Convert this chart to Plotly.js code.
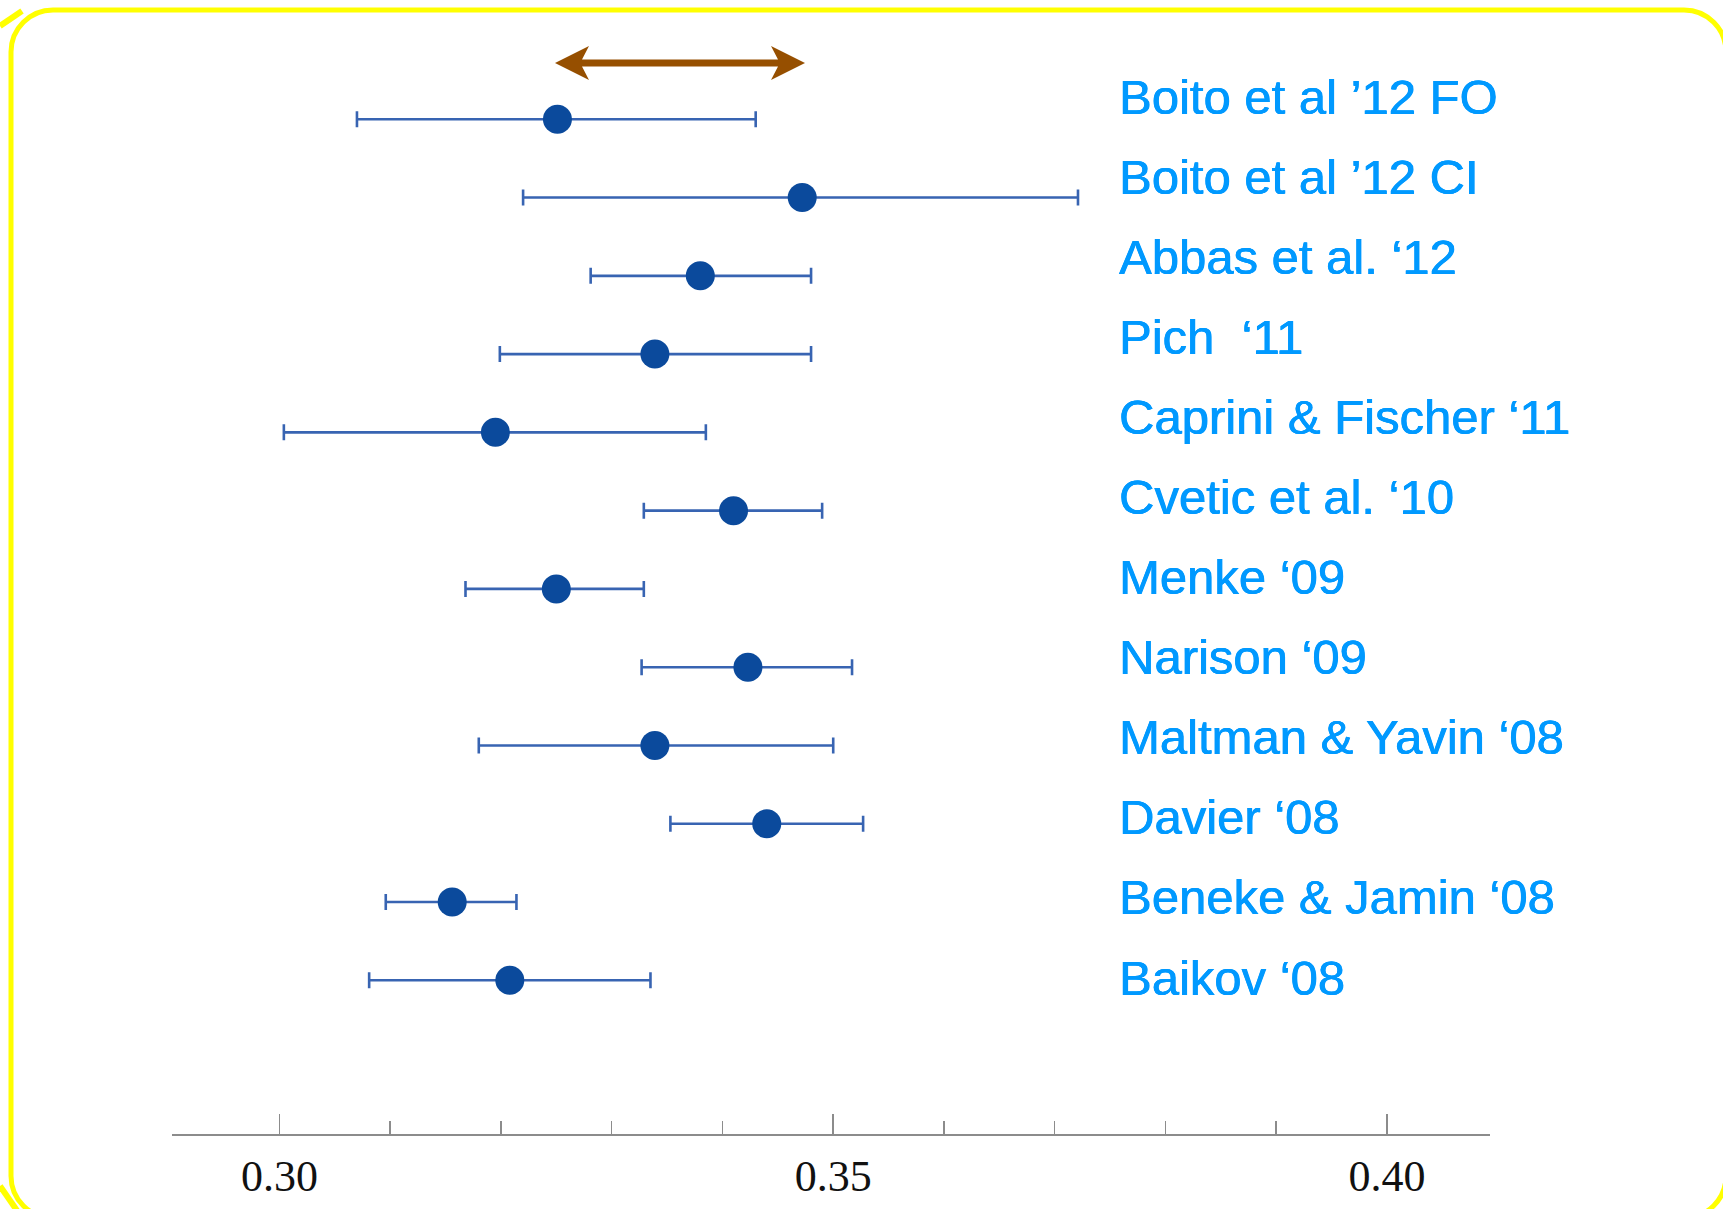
<!DOCTYPE html>
<html>
<head>
<meta charset="utf-8">
<script src="https://cdn.plot.ly/plotly-3.0.1.min.js"></script>
<style>
  html, body { margin: 0; padding: 0; background: #ffffff; }
  #chart { width: 1723px; height: 1209px; }
</style>
</head>
<body>
<div id="chart"></div>
<script>
// ---- data ----
const studies = [
  "Boito et al \u201912 FO",
  "Boito et al \u201912 CI",
  "Abbas et al. \u201812",
  "Pich \u00a0\u201811",
  "Caprini & Fischer \u201811",
  "Cvetic et al. \u201810",
  "Menke \u201809",
  "Narison \u201809",
  "Maltman & Yavin \u201808",
  "Davier \u201808",
  "Beneke & Jamin \u201808",
  "Baikov \u201808"
];
const central = [0.3251, 0.3472, 0.3380, 0.3339, 0.3195, 0.3410, 0.3250, 0.3423, 0.3339, 0.3440, 0.3156, 0.3208];
const lower   = [0.3070, 0.3220, 0.3281, 0.3199, 0.3004, 0.3329, 0.3168, 0.3327, 0.3180, 0.3353, 0.3096, 0.3081];
const upper   = [0.3430, 0.3721, 0.3480, 0.3480, 0.3385, 0.3490, 0.3329, 0.3517, 0.3500, 0.3527, 0.3214, 0.3335];
const tickValues = [0.30, 0.35, 0.40];
const tickLabels = ["0.30", "0.35", "0.40"];

// ---- layout geometry ----
const W = 1723, H = 1209;
const M = { l: 172, r: 233, t: 0, b: 75 };
const plotW = W - M.l - M.r, plotH = H - M.t - M.b;
const xRange = [0.2903, 0.4093];
function pxToX(px) { return xRange[0] + (px - M.l) / plotW * (xRange[1] - xRange[0]); }
function pxToPaperX(px) { return (px - M.l) / plotW; }
function pyToPaperY(py) { return 1 - (py - M.t) / plotH; }

const rowIndex = studies.map((_, i) => i);
const errPlus = upper.map((u, i) => u - central[i]);
const errMinus = lower.map((l, i) => central[i] - l);

const trace = {
  type: 'scatter',
  mode: 'markers',
  x: central,
  y: rowIndex,
  error_x: {
    type: 'data', symmetric: false,
    array: errPlus, arrayminus: errMinus,
    color: '#3864b2', thickness: 2.6, width: 8
  },
  marker: { size: 29, color: '#0b4a9c', line: { width: 0 } },
  hoverinfo: 'skip',
  cliponaxis: false
};

// yellow rounded frame (paper coords converted from pixels)
function P(px, py) { return pxToPaperX(px) + ',' + pyToPaperY(py); }
function roundedRect(x0, y0, x1, y1, r) {
  const k = 0.5523 * r;
  return 'M' + P(x0 + r, y0) +
    ' L' + P(x1 - r, y0) +
    ' C' + P(x1 - r + k, y0) + ' ' + P(x1, y0 + r - k) + ' ' + P(x1, y0 + r) +
    ' L' + P(x1, y1 - r) +
    ' C' + P(x1, y1 - r + k) + ' ' + P(x1 - r + k, y1) + ' ' + P(x1 - r, y1) +
    ' L' + P(x0 + r, y1) +
    ' C' + P(x0 + r - k, y1) + ' ' + P(x0, y1 - r + k) + ' ' + P(x0, y1 - r) +
    ' L' + P(x0, y0 + r) +
    ' C' + P(x0, y0 + r - k) + ' ' + P(x0 + r - k, y0) + ' ' + P(x0 + r, y0) + ' Z';
}

// brown double arrow (x in data units, y in paper units)
function A(px, py) { return pxToX(px) + ',' + pyToPaperY(py); }
const arrowPath = 'M' + A(555, 63) + ' L' + A(589, 46) + ' L' + A(582, 59.5) +
  ' L' + A(778, 59.5) + ' L' + A(771, 46) + ' L' + A(805, 63) + ' L' + A(771, 80) +
  ' L' + A(778, 66.5) + ' L' + A(582, 66.5) + ' L' + A(589, 80) + ' Z';

const shapes = [
  { type: 'path', xref: 'paper', yref: 'paper', path: roundedRect(11, 10, 1726, 1218, 42),
    line: { color: '#ffff00', width: 5 }, fillcolor: 'rgba(0,0,0,0)', layer: 'above' },
  { type: 'line', xref: 'paper', yref: 'paper',
    x0: pxToPaperX(0), y0: pyToPaperY(26), x1: pxToPaperX(22), y1: pyToPaperY(11),
    line: { color: '#ffff00', width: 6 } },
  { type: 'line', xref: 'paper', yref: 'paper',
    x0: pxToPaperX(0), y0: pyToPaperY(1186), x1: pxToPaperX(18), y1: pyToPaperY(1212),
    line: { color: '#ffff00', width: 6 } },
  { type: 'path', xref: 'x', yref: 'paper', path: arrowPath,
    fillcolor: '#964f00', line: { width: 0 } }
];

const annotations = studies.map((name, i) => ({
  text: name,
  xref: 'paper', x: pxToPaperX(1117), xanchor: 'left',
  yref: 'y2', y: i, yanchor: 'middle',
  showarrow: false,
  font: { family: 'Liberation Sans, Arial, Helvetica, sans-serif', size: 49, color: '#0099ff',
          shadow: '0.5px 0 0 #0099ff, -0.3px 0 0 #0099ff' }
}));

const layout = {
  width: W, height: H,
  margin: M,
  paper_bgcolor: '#ffffff',
  plot_bgcolor: 'rgba(0,0,0,0)',
  showlegend: false,
  xaxis: {
    range: xRange,
    tickmode: 'array', tickvals: tickValues, ticktext: tickLabels,
    ticks: 'inside', ticklen: 20, tickwidth: 1.5, tickcolor: '#8c8c8c',
    showline: true, linecolor: '#8c8c8c', linewidth: 2,
    showgrid: false, zeroline: false,
    minor: { tickmode: 'linear', tick0: 0.30, dtick: 0.01, ticks: 'inside', ticklen: 13,
             tickwidth: 1.5, tickcolor: '#8c8c8c', showgrid: false },
    tickfont: { family: 'Liberation Serif, Times New Roman, serif', size: 44, color: '#111111' },
    ticklabelstandoff: 2,
    fixedrange: true
  },
  yaxis: { range: [12.964, -1.524], visible: false, fixedrange: true },
  yaxis2: { range: [12.954, -1.205], overlaying: 'y', visible: false, fixedrange: true },
  shapes: shapes,
  annotations: annotations
};

Plotly.newPlot('chart', [trace], layout, { displayModeBar: false, staticPlot: true });
</script>
</body>
</html>
